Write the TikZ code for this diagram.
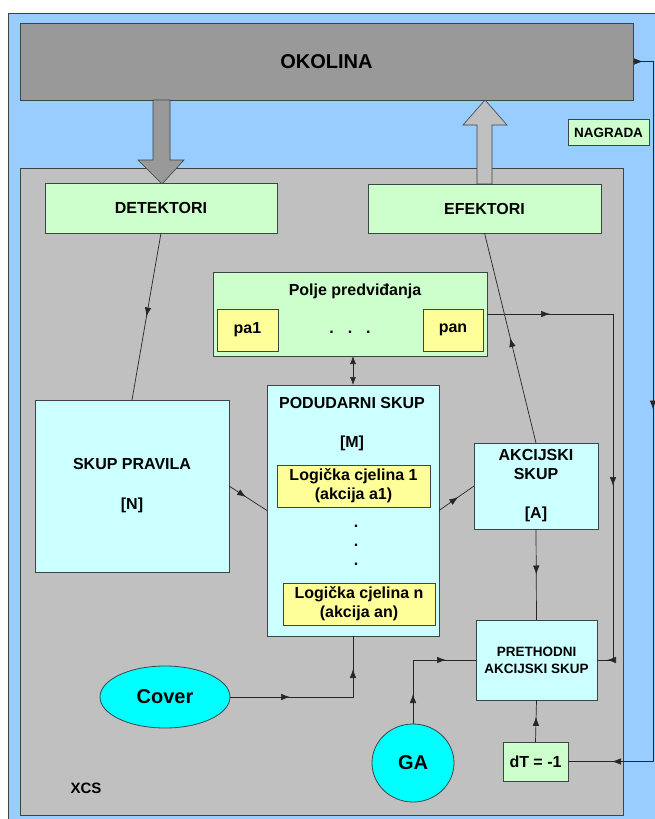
\documentclass[tikz,border=0pt]{standalone}
\usepackage{fontspec}
\setmainfont{Liberation Sans}
\usetikzlibrary{arrows.meta,decorations.markings,shapes.geometric}
\definecolor{okvir}{HTML}{99CCFF}
\definecolor{siva}{HTML}{999999}
\definecolor{svsiva}{HTML}{C0C0C0}
\definecolor{zelena}{HTML}{CCFFCC}
\definecolor{cijan}{HTML}{CCFFFF}
\definecolor{zuta}{HTML}{FFFF99}
\definecolor{tirkiz}{HTML}{00FFFF}
\definecolor{rub}{HTML}{3C4446}
\begin{document}
\begin{tikzpicture}[x=1pt,y=-1pt,
  kutija/.style={draw=rub,line width=0.8pt,inner sep=0pt,outer sep=0pt,align=center,
    font=\bfseries\fontsize{16}{19}\selectfont},
  zel/.style={kutija,fill=zelena},
  plava/.style={kutija,fill=cijan},
  zut/.style={kutija,fill=zuta},
  krug/.style={kutija,ellipse,fill=tirkiz,font=\bfseries\fontsize{20}{24}\selectfont},
  tekst/.style={inner sep=0pt,align=center,font=\bfseries\fontsize{16}{19}\selectfont},
  veza/.style={line width=0.7pt,black!85},
  arr/.style={postaction={decorate,decoration={markings,
    mark=at position #1 with {\arrow{Latex[length=9pt,width=6.5pt]}}}}}]
  \path[use as bounding box] (0,0) rectangle (655,819);
  \clip (0,0) rectangle (655,819);
  \fill[white] (0,0) rectangle (655,819);
  \draw[draw=rub,line width=0.8pt,fill=okvir] (8,13) rectangle (690,840);
  % okolina
  \node[kutija,fill=siva,minimum width=613pt,minimum height=77pt,
    font=\bfseries\fontsize{20}{24}\selectfont] (okolina) at (326.5,61.5) {OKOLINA};
  \node[zel,minimum width=81pt,minimum height=26pt,
    font=\bfseries\fontsize{13.5}{16}\selectfont] (nagrada) at (608.5,132.5) {NAGRADA};
  % XCS
  \node[draw=rub,line width=0.8pt,fill=svsiva,inner sep=0pt,
    minimum width=603pt,minimum height=647pt] (xcs) at (321.5,491.5) {};
  \draw[draw=rub,line width=0.6pt,fill=siva] (153,100) -- (170,100) -- (170,160) -- (184,160)
    -- (162,184) -- (138,160) -- (153,160) -- cycle;
  \draw[draw=rub,line width=0.6pt,fill=svsiva] (477,184) -- (492,184) -- (492,125) -- (507,125)
    -- (485,100) -- (463,125) -- (477,125) -- cycle;
  \node[zel,minimum width=232pt,minimum height=50pt] (detektori) at (161,208) {DETEKTORI};
  \node[zel,minimum width=233pt,minimum height=49pt] (efektori) at (484.5,208.5) {EFEKTORI};
  % polje predvidjanja
  \node[zel,minimum width=274pt,minimum height=84pt] (polje) at (350,314) {};
  \node[tekst] (poljetxt) at (355,291) {Polje predviđanja};
  \node[zut,minimum width=61pt,minimum height=42pt] (pa1) at (247.5,330) {pa1};
  \node[zut,minimum width=60pt,minimum height=42pt] (pan) at (453,330) {pan};
  \node[tekst] (tocke) at (350,332) {.\hspace{14pt}.\hspace{14pt}.};
  % podudarni skup
  \node[plava,minimum width=172pt,minimum height=251pt] (podudarni) at (353,510.5) {};
  \node[tekst] (podtxt) at (352,424) {PODUDARNI SKUP\\[20pt][M]};
  \node[zut,minimum width=153pt,minimum height=42pt] (log1) at (353.5,486) {Logička cjelina 1\\(akcija a1)};
  \foreach \y [count=\i] in {526,545,564}
    \node[tekst] (vt\i) at (356,\y) {.};
  \node[zut,minimum width=152pt,minimum height=42pt] (logn) at (359,604) {Logička cjelina n\\(akcija an)};
  \node[plava,minimum width=194pt,minimum height=172pt] (pravila) at (132,486) {SKUP PRAVILA\\[21pt][N]};
  \node[plava,minimum width=124pt,minimum height=86pt] (akcijski) at (536,486) {AKCIJSKI\\SKUP\\[20pt][A]};
  \node[plava,minimum width=121pt,minimum height=80pt,
    font=\bfseries\fontsize{13.5}{17}\selectfont] (prethodni) at (536.5,660) {PRETHODNI\\AKCIJSKI SKUP};
  \node[krug,minimum width=130pt,minimum height=62pt] (cover) at (165,697) {Cover};
  \node[krug,minimum width=82pt,minimum height=78pt] (ga) at (413,763) {GA};
  \node[zel,minimum width=65pt,minimum height=39pt] (dt) at (535.5,761.5) {dT = -1};
  \node[tekst,font=\bfseries\fontsize{15}{18}\selectfont] (xcstxt) at (86,788) {XCS};
  % veze
  \coordinate (d1) at (613,314);
  \coordinate (d2) at (613,660);
  \coordinate (c1) at (podudarni.south |- cover.east);
  \coordinate (g1) at (ga.north |- prethodni.west);
  \coordinate (o1) at (653,61.5);
  \coordinate (o2) at (653,761.5);
  \draw[veza,arr=0.5] (detektori.south) -- (pravila.north);
  \draw[veza,arr=0.5] (akcijski.north) -- (efektori.south);
  \draw[veza,arr=0.45] (pravila.east) -- (podudarni.west);
  \draw[veza,arr=0.55] (podudarni.east) -- (akcijski.west);
  \draw[veza,arr=0.5] (akcijski.south) -- (prethodni.north);
  \draw[veza,{Latex[length=8pt,width=6pt]}-{Latex[length=8pt,width=6pt]}] (podudarni.north) -- (podudarni.north |- polje.south);
  \draw[veza,arr=63pt,arr=298pt,arr=478pt] (polje.east) -- (d1) -- (d2) -- (prethodni.east);
  \draw[veza,arr=60pt,arr=151pt] (cover.east) -- (c1) -- (podudarni.south);
  \draw[veza,arr=30pt,arr=97pt] (ga.north) -- (g1) -- (prethodni.west);
  \draw[veza,arr=0.6] (dt.north) -- (prethodni.south);
  \draw[veza,arr=10pt,arr=368pt,arr=761pt] (okolina.east) -- (o1) -- (o2) -- (dt.east);
\end{tikzpicture}
\end{document}
